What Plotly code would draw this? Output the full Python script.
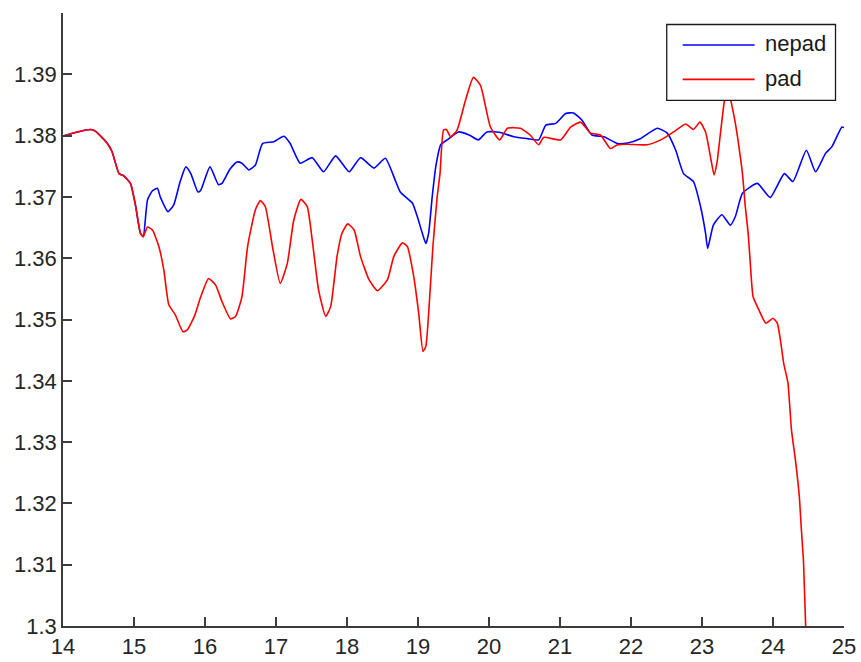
import plotly.graph_objects as go

# "pad" series (x, value)
pad_x = [14.00, 14.20, 14.39, 14.46, 14.62, 14.69, 14.79, 14.86, 14.95, 15.02,
         15.09, 15.13, 15.19, 15.26, 15.35, 15.42, 15.49, 15.58, 15.69, 15.75,
         15.85, 15.94, 16.05, 16.15, 16.24, 16.36, 16.43, 16.52, 16.60, 16.71,
         16.78, 16.85, 16.95, 17.06, 17.16, 17.25, 17.35, 17.44, 17.51, 17.60,
         17.70, 17.77, 17.86, 17.93, 18.01, 18.10, 18.19, 18.31, 18.43, 18.57,
         18.66, 18.78, 18.85, 18.94, 19.01, 19.07, 19.11, 19.15, 19.21, 19.27,
         19.31, 19.36, 19.40, 19.46, 19.55, 19.67, 19.78, 19.88, 20.02, 20.15,
         20.26, 20.44, 20.58, 20.70, 20.77, 21.01, 21.15, 21.29, 21.43, 21.57,
         21.71, 21.81, 21.95, 22.23, 22.42, 22.60, 22.77, 22.88, 22.97, 23.05,
         23.12, 23.17, 23.21, 23.26, 23.31, 23.36, 23.41, 23.47, 23.52, 23.57,
         23.61, 23.65, 23.68, 23.72, 23.80, 23.90, 24.00, 24.06, 24.11, 24.15,
         24.21, 24.26, 24.32, 24.37, 24.40, 24.43, 24.46, 24.50]
pad_y = [1.3799, 1.3806, 1.3810, 1.3807, 1.3788, 1.3774, 1.3738, 1.3734, 1.3722, 1.3687,
         1.3641, 1.3635, 1.3651, 1.3646, 1.3619, 1.3581, 1.3524, 1.3508, 1.3480, 1.3483,
         1.3505, 1.3537, 1.3567, 1.3556, 1.3529, 1.3501, 1.3505, 1.3537, 1.3619, 1.3679,
         1.3694, 1.3684, 1.3619, 1.3559, 1.3592, 1.3662, 1.3696, 1.3684, 1.3630, 1.3548,
         1.3505, 1.3521, 1.3603, 1.3641, 1.3656, 1.3646, 1.3603, 1.3565, 1.3547, 1.3565,
         1.3603, 1.3625, 1.3619, 1.3570, 1.3510, 1.3448, 1.3456, 1.3510, 1.3619, 1.3700,
         1.3738, 1.3809, 1.3810, 1.3798, 1.3809, 1.3858, 1.3895, 1.3882, 1.3814, 1.3793,
         1.3812, 1.3812, 1.3801, 1.3785, 1.3797, 1.3793, 1.3814, 1.3822, 1.3804, 1.3801,
         1.3779, 1.3785, 1.3786, 1.3785, 1.3793, 1.3806, 1.3819, 1.3810, 1.3822, 1.3806,
         1.3765, 1.3736, 1.3755, 1.3804, 1.3852, 1.3880, 1.3855, 1.3820, 1.3782, 1.3738,
         1.3684, 1.3641, 1.3592, 1.3537, 1.3516, 1.3494, 1.3502, 1.3494, 1.3462, 1.3429,
         1.3397, 1.3320, 1.3267, 1.3212, 1.3157, 1.3104, 1.3000, 1.2900]

# "nepad" series (x, value)
nepad_x = [14.00, 14.20, 14.39, 14.46, 14.62, 14.69, 14.79, 14.86, 14.95, 15.02,
           15.09, 15.13, 15.19, 15.26, 15.33, 15.37, 15.48, 15.56, 15.65, 15.73,
           15.80, 15.90, 15.94, 16.07, 16.19, 16.24, 16.35, 16.45, 16.52, 16.62,
           16.71, 16.81, 16.97, 17.11, 17.20, 17.34, 17.51, 17.67, 17.84, 18.03,
           18.19, 18.38, 18.54, 18.68, 18.75, 18.92, 18.99, 19.06, 19.11, 19.15,
           19.20, 19.25, 19.32, 19.41, 19.57, 19.72, 19.85, 19.97, 20.16, 20.35,
           20.54, 20.70, 20.80, 20.94, 21.08, 21.19, 21.31, 21.45, 21.62, 21.81,
           21.95, 22.13, 22.37, 22.51, 22.63, 22.74, 22.88, 22.98, 23.05, 23.08,
           23.16, 23.28, 23.40, 23.47, 23.57, 23.78, 23.96, 24.16, 24.28, 24.47,
           24.60, 24.74, 24.83, 24.97, 25.00]
nepad_y = [1.3799, 1.3806, 1.3810, 1.3807, 1.3788, 1.3774, 1.3738, 1.3734, 1.3722, 1.3687,
           1.3641, 1.3635, 1.3695, 1.3710, 1.3714, 1.3700, 1.3676, 1.3687, 1.3725, 1.3749,
           1.3738, 1.3708, 1.3711, 1.3749, 1.3720, 1.3722, 1.3745, 1.3757, 1.3755, 1.3744,
           1.3752, 1.3787, 1.3790, 1.3799, 1.3787, 1.3755, 1.3764, 1.3741, 1.3767, 1.3741,
           1.3764, 1.3747, 1.3763, 1.3727, 1.3708, 1.3690, 1.3668, 1.3641, 1.3624, 1.3641,
           1.3700, 1.3749, 1.3785, 1.3793, 1.3806, 1.3801, 1.3793, 1.3806, 1.3805, 1.3798,
           1.3795, 1.3793, 1.3817, 1.3820, 1.3836, 1.3837, 1.3825, 1.3801, 1.3798, 1.3787,
           1.3788, 1.3795, 1.3812, 1.3804, 1.3776, 1.3738, 1.3725, 1.3684, 1.3641, 1.3616,
           1.3654, 1.3671, 1.3654, 1.3668, 1.3706, 1.3722, 1.3699, 1.3738, 1.3725, 1.3776,
           1.3741, 1.3771, 1.3782, 1.3814, 1.3813]

y_ticks = [1.30, 1.31, 1.32, 1.33, 1.34, 1.35, 1.36, 1.37, 1.38, 1.39]
y_tick_text = ["1.3", "1.31", "1.32", "1.33", "1.34", "1.35", "1.36", "1.37", "1.38", "1.39"]
x_ticks = [14, 15, 16, 17, 18, 19, 20, 21, 22, 23, 24, 25]

series_names = ["nepad", "pad"]
series_colors = ["#0000ff", "#ff0000"]

W, H = 861, 662
M_L, M_R, M_T, M_B = 62.5, 16.5, 12.5, 35.5
PW, PH = W - M_L - M_R, H - M_T - M_B


def px_x(px):
    return (px - M_L) / PW


def px_y(py):
    return (H - M_B - py) / PH


FONT = "Liberation Sans, Arial, sans-serif"
AXIS_COLOR = "#3c3c3c"
TEXT_COLOR = "#262626"

fig = go.Figure()
fig.add_trace(go.Scatter(x=nepad_x, y=nepad_y, mode="lines", name=series_names[0],
                         line=dict(color=series_colors[0], width=1.6, shape="spline", smoothing=0.5)))
fig.add_trace(go.Scatter(x=pad_x, y=pad_y, mode="lines", name=series_names[1],
                         line=dict(color=series_colors[1], width=1.6, shape="spline", smoothing=0.5)))

axis_common = dict(showline=True, linecolor=AXIS_COLOR, linewidth=1.5, mirror=False,
                   ticks="inside", ticklen=9, tickwidth=1.5, tickcolor=AXIS_COLOR,
                   showgrid=False, zeroline=False, automargin=False,
                   tickfont=dict(family=FONT, size=22, color=TEXT_COLOR))

fig.update_xaxes(range=[14, 25], tickvals=x_ticks, **axis_common)
fig.update_yaxes(range=[1.3, 1.4], tickvals=y_ticks, ticktext=y_tick_text, **axis_common)

# Boxed legend in the upper right, opaque so the lines pass beneath it
lg_x0, lg_x1, lg_y0, lg_y1 = 667, 836, 24, 100
shapes = [dict(type="rect", xref="paper", yref="paper", layer="above",
               x0=px_x(lg_x0), x1=px_x(lg_x1), y0=px_y(lg_y1), y1=px_y(lg_y0),
               fillcolor="white", line=dict(color="#1a1a1a", width=1.3))]
annotations = []
for name, color, ly in zip(series_names, series_colors, [44.5, 79]):
    shapes.append(dict(type="line", xref="paper", yref="paper", layer="above",
                       x0=px_x(683), x1=px_x(755), y0=px_y(ly), y1=px_y(ly),
                       line=dict(color=color, width=1.6)))
    annotations.append(dict(xref="paper", yref="paper", x=px_x(763), y=px_y(ly - 1),
                            text=name, showarrow=False, xanchor="left", yanchor="middle",
                            font=dict(family=FONT, size=22, color="#1a1a1a")))

fig.update_layout(width=W, height=H, margin=dict(l=M_L, r=M_R, t=M_T, b=M_B),
                  paper_bgcolor="white", plot_bgcolor="white", showlegend=False,
                  shapes=shapes, annotations=annotations)

fig.write_html("out.html")
